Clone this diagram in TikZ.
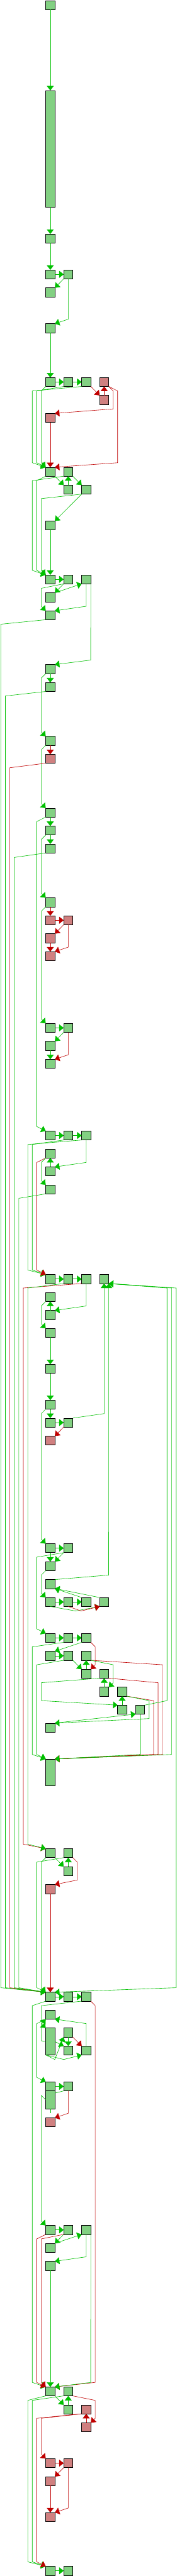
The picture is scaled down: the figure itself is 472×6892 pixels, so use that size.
\documentclass[tikz,border=0pt]{standalone}
\usetikzlibrary{arrows.meta,calc}
\definecolor{gfill}{RGB}{130,208,130}
\definecolor{rfill}{RGB}{208,128,128}
\definecolor{gline}{RGB}{0,192,0}
\definecolor{rline}{RGB}{192,0,0}
\tikzset{
  blk/.style={draw=black, line width=0.3pt, minimum width=2.433mm, minimum height=2.4mm, inner sep=0pt, outer sep=0pt},
  gblk/.style={blk, fill=gfill},
  rblk/.style={blk, fill=rfill},
  ge/.style={draw=gline, line width=0.3pt, -{Triangle[width=1.87mm,length=1.22mm]}},
  re/.style={draw=rline, line width=0.3pt, -{Triangle[width=1.87mm,length=1.22mm]}},
  gplain/.style={draw=gline, line width=0.3pt},
}
\newcommand\gbk[3]{\node[gblk] (#1) at ({134.33+48*#2},{14+48*#3}) {};}
\newcommand\rbk[3]{\node[rblk] (#1) at ({134.33+48*#2},{14+48*#3}) {};}
\newcommand\lanedge[6]{\draw[#1] (#2) -- ({lx(#3)},{mb(#4)}) -- ({lx(#3)},{mt(#5)}) -- (#6);}
\begin{document}
\begin{tikzpicture}[x=0.1mm, y=-0.1mm,
  declare function={lx(\k)=2.33+12*\k; mb(\r)=38+48*\r; mt(\r)=48*\r-10;}]
\fill[white] (0,0) rectangle (472,6892);
\useasboundingbox (0,0) rectangle (472,6892);
% ---------------- blocks ----------------
\gbk{B1}{0}{0}
\node[gblk, minimum height=31.2mm] (B2) at (134.33,398) {};
\gbk{B3}{0}{13}
\gbk{B4}{0}{15} \gbk{B5}{1}{15}
\gbk{B6}{0}{16}
\gbk{B7}{0}{18}
\gbk{B8}{0}{21} \gbk{B9}{1}{21} \gbk{B10}{2}{21} \rbk{B11}{3}{21}
\rbk{B12}{3}{22}
\rbk{B13}{0}{23}
\gbk{B14}{0}{26} \gbk{B15}{1}{26}
\gbk{B16}{1}{27} \gbk{B17}{2}{27}
\gbk{B18}{0}{29}
\gbk{B19}{0}{32} \gbk{B20}{1}{32} \gbk{B21}{2}{32}
\gbk{B22}{0}{33}
\gbk{B23}{0}{34}
\gbk{B24}{0}{37}
\gbk{B25}{0}{38}
\gbk{B26}{0}{41}
\rbk{B27}{0}{42}
\gbk{B28}{0}{45} \gbk{B29}{0}{46} \gbk{B30}{0}{47}
\gbk{B31}{0}{50}
\rbk{B32}{0}{51} \rbk{B33}{1}{51}
\rbk{B34}{0}{52}
\rbk{B35}{0}{53}
\gbk{B36}{0}{57} \gbk{B37}{1}{57}
\gbk{B38}{0}{58}
\gbk{B39}{0}{59}
\gbk{B40}{0}{63} \gbk{B41}{1}{63} \gbk{B42}{2}{63}
\gbk{B43}{0}{64}
\gbk{B44}{0}{65}
\gbk{B45}{0}{66}
\gbk{B47}{0}{71} \gbk{B48}{1}{71} \gbk{B49}{2}{71} \gbk{B50}{3}{71}
\gbk{B51}{0}{72}
\gbk{B52}{0}{73}
\gbk{B53}{0}{74}
\gbk{B54}{0}{76}
\gbk{B55}{0}{78}
\gbk{B56}{0}{79} \gbk{B57}{1}{79}
\rbk{B58}{0}{80}
\gbk{B59}{0}{86} \gbk{B60}{1}{86}
\gbk{B61}{0}{87}
\gbk{B62}{0}{88}
\gbk{B63}{0}{89} \gbk{B64}{1}{89} \gbk{B64b}{2}{89} \gbk{B64c}{3}{89}
\gbk{B65}{0}{91} \gbk{B66}{1}{91} \gbk{B67}{2}{91}
\gbk{B68}{0}{92} \gbk{B69}{1}{92} \gbk{B70}{2}{92}
\gbk{B71}{2}{93} \gbk{B72}{3}{93}
\gbk{B73}{3}{94} \gbk{B74}{4}{94}
\gbk{B75}{4}{95} \gbk{B77}{5}{95}
\gbk{B76}{0}{96}
\node[gblk, minimum height=7.2mm] (Bbig) at (134.33,4742) {};
\gbk{B78}{0}{103} \gbk{B79}{1}{103}
\gbk{B80}{1}{104}
\rbk{B81}{0}{105}
\gbk{M1}{0}{111} \gbk{M2}{1}{111} \gbk{M3}{2}{111}
\gbk{M4}{0}{112}
\node[gblk, minimum height=7.2mm] (M5) at (134.33,5462) {};
\gbk{M6}{1}{113}
\gbk{M7}{1}{114} \gbk{M8}{2}{114}
\gbk{M9}{0}{116} \gbk{M11}{1}{116}
\node[gblk, minimum height=4.8mm] (M10) at (134.33,5618) {};
\rbk{M12}{0}{118}
\gbk{P1}{0}{124} \gbk{P2}{1}{124} \gbk{P3}{2}{124}
\gbk{P4}{0}{125}
\gbk{P5}{0}{126}
\gbk{N1}{0}{133} \gbk{N2}{1}{133}
\gbk{N3}{1}{134} \rbk{N4}{2}{134}
\rbk{N5}{2}{135}
\rbk{R1}{0}{137} \rbk{R2}{1}{137}
\rbk{R3}{0}{138}
\rbk{R4}{0}{140}
\gbk{Q1}{0}{143} \gbk{Q2}{1}{143}
\coordinate (stub) at ({lx(11)},{mb(117)});
% ---------------- straight edges ----------------
\foreach \a/\b in {B1/B2,B2/B3,B3/B4,B7/B8,B18/B19,B24/B25,B28/B29,B29/B30,B38/B39,
  B53/B54,B54/B55,B55/B56,B59/B61,P5/N1,B44/B43,B52/B51,B16/B15,B71/B70,B73/B72,
  B75/B74,B80/B79,M6/M7,N3/N2,
  B4/B5,B8/B9,B9/B10,B19/B20,B36/B37,B40/B41,B41/B42,B47/B48,B48/B49,B56/B57,B59/B60,
  B63/B64,B64/B64b,B65/B66,B66/B67,B68/B69,M1/M2,M2/M3,M9/M11,P1/P2,Q1/Q2}
  \draw[ge] (\a) -- (\b);
\foreach \a/\b in {B13/B14,B26/B27,B31/B32,B34/B35,B81/M1,R3/R4,B12/B11,N5/N4,B32/B33,R1/R2}
  \draw[re] (\a) -- (\b);
% diagonals
\foreach \a/\b in {B5/B6,B17/B18,B20/B22,B37/B38,B60/B61,B67/B68,P2/P4}
  \draw[ge] (\a.south west) -- (\b.north east);
\foreach \a/\b in {B33/B34,B57/B58,R2/R3}
  \draw[re] (\a.south west) -- (\b.north east);
\foreach \a/\b in {B14/B16,B15/B17,B69/B71,B78/B80,N1/N3}
  \draw[ge] (\a.south east) -- (\b.north west);
\foreach \a/\b in {B10/B12,M6/M8}
  \draw[re] (\a.south east) -- (\b.north west);
\draw[ge] (B22.north east) -- (B21.south west);
\draw[ge] (P4.north east) -- (P3.south west);
\draw[ge] (B64b.north west) -- (B62.south east);
\draw[ge] (B64c.north west) -- (B62.south east);
\draw[ge] (B76.north east) -- (B77.south west);
% ---------------- routed edges ----------------
\draw[ge] (B5.south) -- ({lx(15)},{mt(18)}) -- (B7.north east);
\draw[re] (B11.south east) -- ({lx(25)},{mb(21)}) -- ({lx(25)},{mt(23)}) -- (B13.north east);
\draw[re] (B11.south east) -- ({lx(26)},{mb(21)}) -- ({lx(26)},{mt(26)}) -- (B14.north east);
\lanedge{ge}{B8.south west}{9}{21}{26}{B14.north west}
\lanedge{ge}{B9.south west}{8}{21}{26}{B14.north west}
\lanedge{ge}{B10.south west}{7}{21}{26}{B14.north west}
\lanedge{ge}{B14.south west}{8}{26}{32}{B19.north west}
\lanedge{ge}{B15.south west}{7}{26}{32}{B19.north west}
\lanedge{ge}{B17.south west}{9}{27}{32}{B19.north west}
\lanedge{ge}{B20.south west}{9}{32}{34}{B23.north west}
\draw[ge] (B21.south) -- ({lx(19)},{mt(34)}) -- (B23.north east);
\draw[ge] (B21.south east) -- ({lx(20)},{mt(37)}) -- (B24.north east);
\lanedge{ge}{B23.south west}{0}{34}{111}{M1.north west}
\lanedge{ge}{B24.south west}{9}{37}{41}{B26.north west}
\lanedge{ge}{B25.south west}{1}{38}{111}{M1.north west}
\lanedge{ge}{B26.south west}{9}{41}{45}{B28.north west}
\lanedge{re}{B27.south west}{2}{42}{111}{M1.north west}
\lanedge{ge}{B28.south west}{8}{45}{63}{B40.north west}
\lanedge{ge}{B29.south west}{9}{46}{50}{B31.north west}
\lanedge{ge}{B30.south west}{3}{47}{111}{M1.north west}
\draw[re] (B33.south) -- ({lx(15)},{mt(53)}) -- (B35.north east);
\lanedge{ge}{B31.south west}{9}{50}{57}{B36.north west}
\draw[re] (B37.south) -- ({lx(15)},{mt(59)}) -- (B39.north east);
\lanedge{ge}{B41.south west}{7}{63}{71}{B47.north west}
\lanedge{ge}{B42.south west}{6}{63}{71}{B47.north west}
\draw[ge] (B42.south) -- ({lx(19)},{mt(65)}) -- (B44.north east);
\lanedge{re}{B43.south west}{8}{64}{71}{B47.north west}
\lanedge{ge}{B43.south west}{9}{64}{66}{B45.north west}
\lanedge{ge}{B45.south west}{4}{66}{111}{M1.north west}
\lanedge{re}{B49.south west}{5}{71}{103}{B78.north west}
\lanedge{ge}{B48.south west}{6}{71}{103}{B78.north west}
\draw[ge] (B49.south) -- ({lx(19)},{mt(73)}) -- (B52.north east);
\lanedge{ge}{B51.south west}{9}{72}{74}{B53.north west}
\draw[ge] (B57.north east) -- ({lx(23)},{mt(79)}) -- (B50.south);
\lanedge{ge}{B55.south west}{9}{78}{86}{B59.north west}
\lanedge{ge}{B60.south west}{8}{86}{91}{B65.north west}
\lanedge{ge}{B61.south west}{9}{87}{89}{B63.north west}
\draw[ge] (B62.north east) -- ({lx(24)},{mt(88)}) -- (B50.south east);
\draw[ge] (B63.south) -- (201.7,{mb(89)}) -- (B64c.south west);
\draw[re] (B64.south) -- (216.7,{mb(89)}) -- (B64c.south west);
\lanedge{ge}{B66.south west}{7}{91}{98}{Bbig.north west}
\lanedge{re}{B67.south east}{21}{91}{93}{B71.north east}
\lanedge{ge}{B69.south west}{8}{92}{98}{Bbig.north west}
\lanedge{re}{B70.south east}{36}{92}{98}{Bbig.north east}
\lanedge{ge}{B70.south east}{25}{92}{94}{B73.north east}
\lanedge{ge}{B72.south west}{9}{93}{95}{B75.north west}
\lanedge{re}{B72.south east}{35}{93}{98}{Bbig.north east}
\lanedge{re}{B74.south east}{34}{94}{98}{Bbig.north east}
\draw[ge] (B74.south east) -- ({lx(33)},{mb(94)}) -- ({lx(33)},{mb(95)}) -- (B76.north east);
\draw[ge] (B77.north east) -- ({lx(37)},{mt(95)}) -- ({lx(37)},{mb(71)}) -- (B50.south east);
\draw[ge] (B77.south) -- ({lx(31)},{mt(98)}) -- (Bbig.north east);
\draw[ge] (Bbig.north east) -- ({lx(38)},{mt(98)}) -- ({lx(38)},{mb(71)}) -- (B50.south east);
\draw[ge] (B50.south east) -- ({lx(39)},{mb(71)}) -- ({lx(39)},{mt(111)}) -- (M1.north east);
\lanedge{re}{B79.south east}{17}{103}{105}{B81.north east}
\lanedge{ge}{B78.south west}{9}{103}{111}{M1.north west}
\lanedge{ge}{B79.south west}{8}{103}{111}{M1.north west}
\lanedge{ge}{M1.south west}{7}{111}{133}{N1.north west}
\lanedge{ge}{M3.south west}{9}{111}{113}{M5.north west}
\draw[ge] (M5.west) -- ({lx(9)},5460) -- ({lx(9)},{mt(113)+2}) -- (M4.south west);
\draw[ge] (M4.south west) -- ({lx(8)},{mt(113)}) -- ({lx(8)},{mt(116)}) -- (M9.north west);
\draw[ge] (M8.north) -- ({lx(19)},{mt(113)}) -- (M4.south east);
\draw[ge] (M5.south west) -- ({lx(14)},{mb(114)}) -- (M8.south west);
\draw[ge] (M5.south west) -- ({lx(12)},{mb(114)}) -- (M6.south west);
\draw[ge] (M5.east) -- (M7.north west);
\draw[gplain] (M11.south west) -- ($(M10.north east)+(0,6)$);
\draw[ge] (M10.west) -- ({lx(9)},5606) -- ({lx(9)},{mt(124)}) -- (P1.north west);
\draw[gplain] (M10) -- (stub);
\draw[re] (M11.south) -- ({lx(15)},{mt(118)}) -- (M12.north east);
\lanedge{re}{M3.south east}{21}{111}{133}{N1.north east}
\draw[ge] (P3.south) -- ({lx(19)},{mt(126)}) -- (P5.north east);
\lanedge{re}{P1.south west}{8}{124}{133}{N1.north west}
\lanedge{re}{P2.south west}{9}{124}{133}{N1.north west}
\draw[ge] (P3.south east) -- ({lx(20)},{mt(133)}) -- (N1.north east);
\lanedge{re}{N2.south east}{21}{133}{135}{N5.north east}
\lanedge{ge}{N1.south west}{6}{133}{143}{Q1.north west}
\lanedge{ge}{N2.south west}{7}{133}{143}{Q1.north west}
\lanedge{re}{N4.south west}{8}{134}{143}{Q1.north west}
\lanedge{re}{N4.south west}{9}{134}{137}{R1.north west}
\draw[re] (R2.south) -- ({lx(15)},{mt(140)}) -- (R4.north east);
\end{tikzpicture}
\end{document}
